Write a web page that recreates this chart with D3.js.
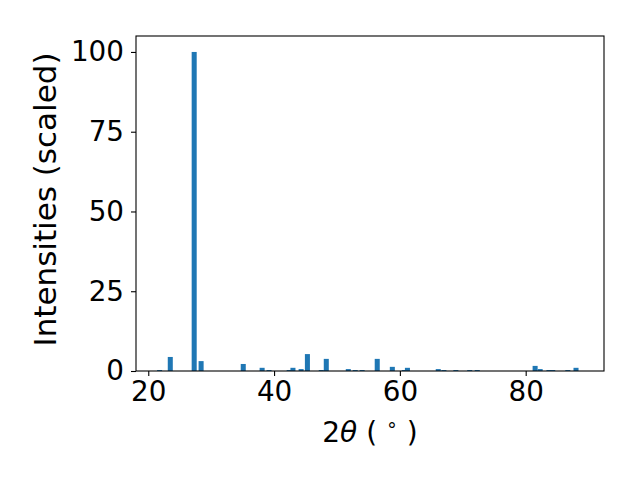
<!DOCTYPE html>
<html><head><meta charset="utf-8">
<script src="https://cdn.jsdelivr.net/npm/d3@7"></script>
<style>body{margin:0;background:#fff}</style>
</head><body>
<script>
const twoTheta = [21.8, 23.5, 27.3, 28.4, 35.1, 38.1, 39.2, 42.4, 43.0, 44.3, 45.3, 47.5, 48.3, 51.8, 52.9, 54.0, 56.4, 58.8, 60.7, 61.2, 66.1, 67.0, 68.9, 71.1, 72.3, 81.5, 82.3, 83.7, 84.3, 86.7, 88.0];
const intensity = [0.3, 4.4, 100, 3.1, 2.2, 1.0, 0.3, 0.3, 1.0, 0.6, 5.3, 0.3, 3.8, 0.6, 0.3, 0.3, 3.8, 1.3, 0.3, 1.0, 0.6, 0.3, 0.3, 0.3, 0.3, 1.6, 0.6, 0.3, 0.3, 0.3, 1.0];
const xTicks = [20, 40, 60, 80];
const yTicks = [0, 25, 50, 75, 100];
const barWidth = 0.8;

const W = 640, H = 480;
const m = {left: 136, right: 604, top: 36, bottom: 371};
const svg = d3.select("body").append("svg").attr("width", W).attr("height", H);
const x = d3.scaleLinear().domain([18.05, 92.45]).range([m.left, m.right]);
const y = d3.scaleLinear().domain([0, 105]).range([m.bottom, m.top]);
const font = "DejaVu Sans, sans-serif";

svg.append("g").selectAll("rect").data(twoTheta).join("rect")
  .attr("x", (d) => x(d - barWidth/2))
  .attr("width", (d) => x(d + barWidth/2) - x(d - barWidth/2))
  .attr("y", (d, i) => y(intensity[i]))
  .attr("height", (d, i) => y(0) - y(intensity[i]))
  .attr("fill", "#1f77b4");

const xa = svg.append("g").attr("transform", `translate(0,${m.bottom})`)
  .call(d3.axisBottom(x).tickValues(xTicks).tickSize(5).tickPadding(5).tickFormat(d3.format("d")));
const ya = svg.append("g").attr("transform", `translate(${m.left},0)`)
  .call(d3.axisLeft(y).tickValues(yTicks).tickSize(5).tickPadding(7).tickFormat(d3.format("d")));
[xa, ya].forEach(a => {
  a.select(".domain").remove();
  a.selectAll("text").attr("font-family", font).attr("font-size", 27.8).attr("fill", "#000");
  a.selectAll("line").attr("stroke", "#000").attr("stroke-width", 1.1);
});

svg.append("rect").attr("x", m.left).attr("y", m.top)
  .attr("width", m.right - m.left).attr("height", m.bottom - m.top)
  .attr("fill", "none").attr("stroke", "#000").attr("stroke-width", 1.1);

const xl = svg.append("text").attr("x", (m.left + m.right)/2).attr("y", 441.5)
  .attr("text-anchor", "middle").attr("font-family", font).attr("font-size", 28).attr("fill", "#000");
xl.append("tspan").text("2");
xl.append("tspan").attr("font-style", "italic").text("θ");
xl.append("tspan").text(" ( ");
xl.append("tspan").attr("font-size", 19).attr("dy", -11).text("∘");
xl.append("tspan").attr("dy", 11).text(" )");

svg.append("text").attr("transform", `translate(56,199.5) rotate(-90)`)
  .attr("text-anchor", "middle").attr("font-family", font).attr("font-size", 31).attr("fill", "#000")
  .text("Intensities (scaled)");
</script>
</body></html>
